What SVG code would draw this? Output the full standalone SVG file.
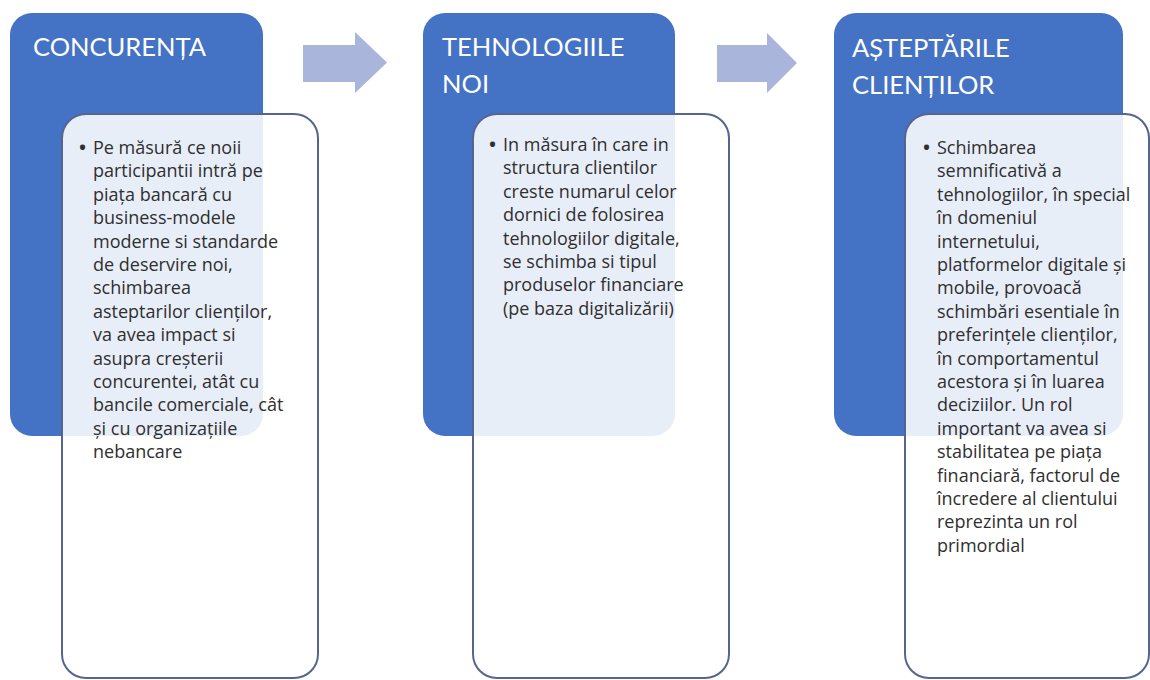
<svg xmlns="http://www.w3.org/2000/svg" width="1150" height="680" viewBox="0 0 1150 680">
<style>
.blue{fill:#4472c4}
.card{fill:#ffffff;fill-opacity:0.88;stroke:#55658f;stroke-width:2}
.title{font-family:Lato,"Open Sans","Liberation Sans",sans-serif;font-size:25.5px;fill:#ffffff}
.body{font-family:"Open Sans",Lato,"Liberation Sans",sans-serif;font-size:18px;fill:#2f2f2f}
.bullet{font-family:"Open Sans",Lato,"Liberation Sans",sans-serif;font-size:24px;fill:#2f2f2f}
.arrow{fill:#a9b5da}
</style>
<rect width="1150" height="680" fill="#ffffff"/>
<g id="connectors">
<polygon class="arrow" points="303,45 355,45 355,32 387,62.5 355,93 355,82 303,82"/>
<polygon class="arrow" points="717,45 767,45 767,33 797,63 767,93 767,82 717,82"/>
</g>
<g id="node-concurenta">
<rect class="blue" x="10" y="13" width="253" height="423" rx="22"/>
<text class="title" x="33" y="56">CONCURENȚA</text>
<rect class="card" x="62" y="114" width="256" height="564" rx="24"/>
<text class="bullet" x="78" y="156">•</text>
<text class="body">
<tspan x="93" y="154">Pe măsură ce noii</tspan>
<tspan x="93" dy="23.4">participantii intră pe</tspan>
<tspan x="93" dy="23.4">piața bancară cu</tspan>
<tspan x="93" dy="23.4">business-modele</tspan>
<tspan x="93" dy="23.4">moderne si standarde</tspan>
<tspan x="93" dy="23.4">de deservire noi,</tspan>
<tspan x="93" dy="23.4">schimbarea</tspan>
<tspan x="93" dy="23.4">asteptarilor clienților,</tspan>
<tspan x="93" dy="23.4">va avea impact si</tspan>
<tspan x="93" dy="23.4">asupra creșterii</tspan>
<tspan x="93" dy="23.4">concurentei, atât cu</tspan>
<tspan x="93" dy="23.4">bancile comerciale, cât</tspan>
<tspan x="93" dy="23.4">și cu organizațiile</tspan>
<tspan x="93" dy="23.4">nebancare</tspan>
</text>
</g>
<g id="node-tehnologiile">
<rect class="blue" x="423" y="13" width="252" height="423" rx="22"/>
<text class="title" x="442" y="56">TEHNOLOGIILE</text>
<text class="title" x="442" y="93">NOI</text>
<rect class="card" x="473" y="114" width="256" height="564" rx="24"/>
<text class="bullet" x="488" y="153">•</text>
<text class="body">
<tspan x="503" y="151">In măsura în care in</tspan>
<tspan x="503" dy="23.4">structura clientilor</tspan>
<tspan x="503" dy="23.4">creste numarul celor</tspan>
<tspan x="503" dy="23.4">dornici de folosirea</tspan>
<tspan x="503" dy="23.4">tehnologiilor digitale,</tspan>
<tspan x="503" dy="23.4">se schimba si tipul</tspan>
<tspan x="503" dy="23.4">produselor financiare</tspan>
<tspan x="503" dy="23.4">(pe baza digitalizării)</tspan>
</text>
</g>
<g id="node-asteptarile">
<rect class="blue" x="834" y="13" width="289" height="423" rx="22"/>
<text class="title" x="852" y="57">AȘTEPTĂRILE</text>
<text class="title" x="852" y="94">CLIENȚILOR</text>
<rect class="card" x="905" y="114" width="244" height="564" rx="24"/>
<text class="bullet" x="922" y="156">•</text>
<text class="body">
<tspan x="937" y="154">Schimbarea</tspan>
<tspan x="937" dy="23.4">semnificativă a</tspan>
<tspan x="937" dy="23.4">tehnologiilor, în special</tspan>
<tspan x="937" dy="23.4">în domeniul</tspan>
<tspan x="937" dy="23.4">internetului,</tspan>
<tspan x="937" dy="23.4">platformelor digitale și</tspan>
<tspan x="937" dy="23.4">mobile, provoacă</tspan>
<tspan x="937" dy="23.4">schimbări esentiale în</tspan>
<tspan x="937" dy="23.4">preferințele clienților,</tspan>
<tspan x="937" dy="23.4">în comportamentul</tspan>
<tspan x="937" dy="23.4">acestora și în luarea</tspan>
<tspan x="937" dy="23.4">deciziilor. Un rol</tspan>
<tspan x="937" dy="23.4">important va avea si</tspan>
<tspan x="937" dy="23.4">stabilitatea pe piața</tspan>
<tspan x="937" dy="23.4">financiară, factorul de</tspan>
<tspan x="937" dy="23.4">încredere al clientului</tspan>
<tspan x="937" dy="23.4">reprezinta un rol</tspan>
<tspan x="937" dy="23.4">primordial</tspan>
</text>
</g>
</svg>
